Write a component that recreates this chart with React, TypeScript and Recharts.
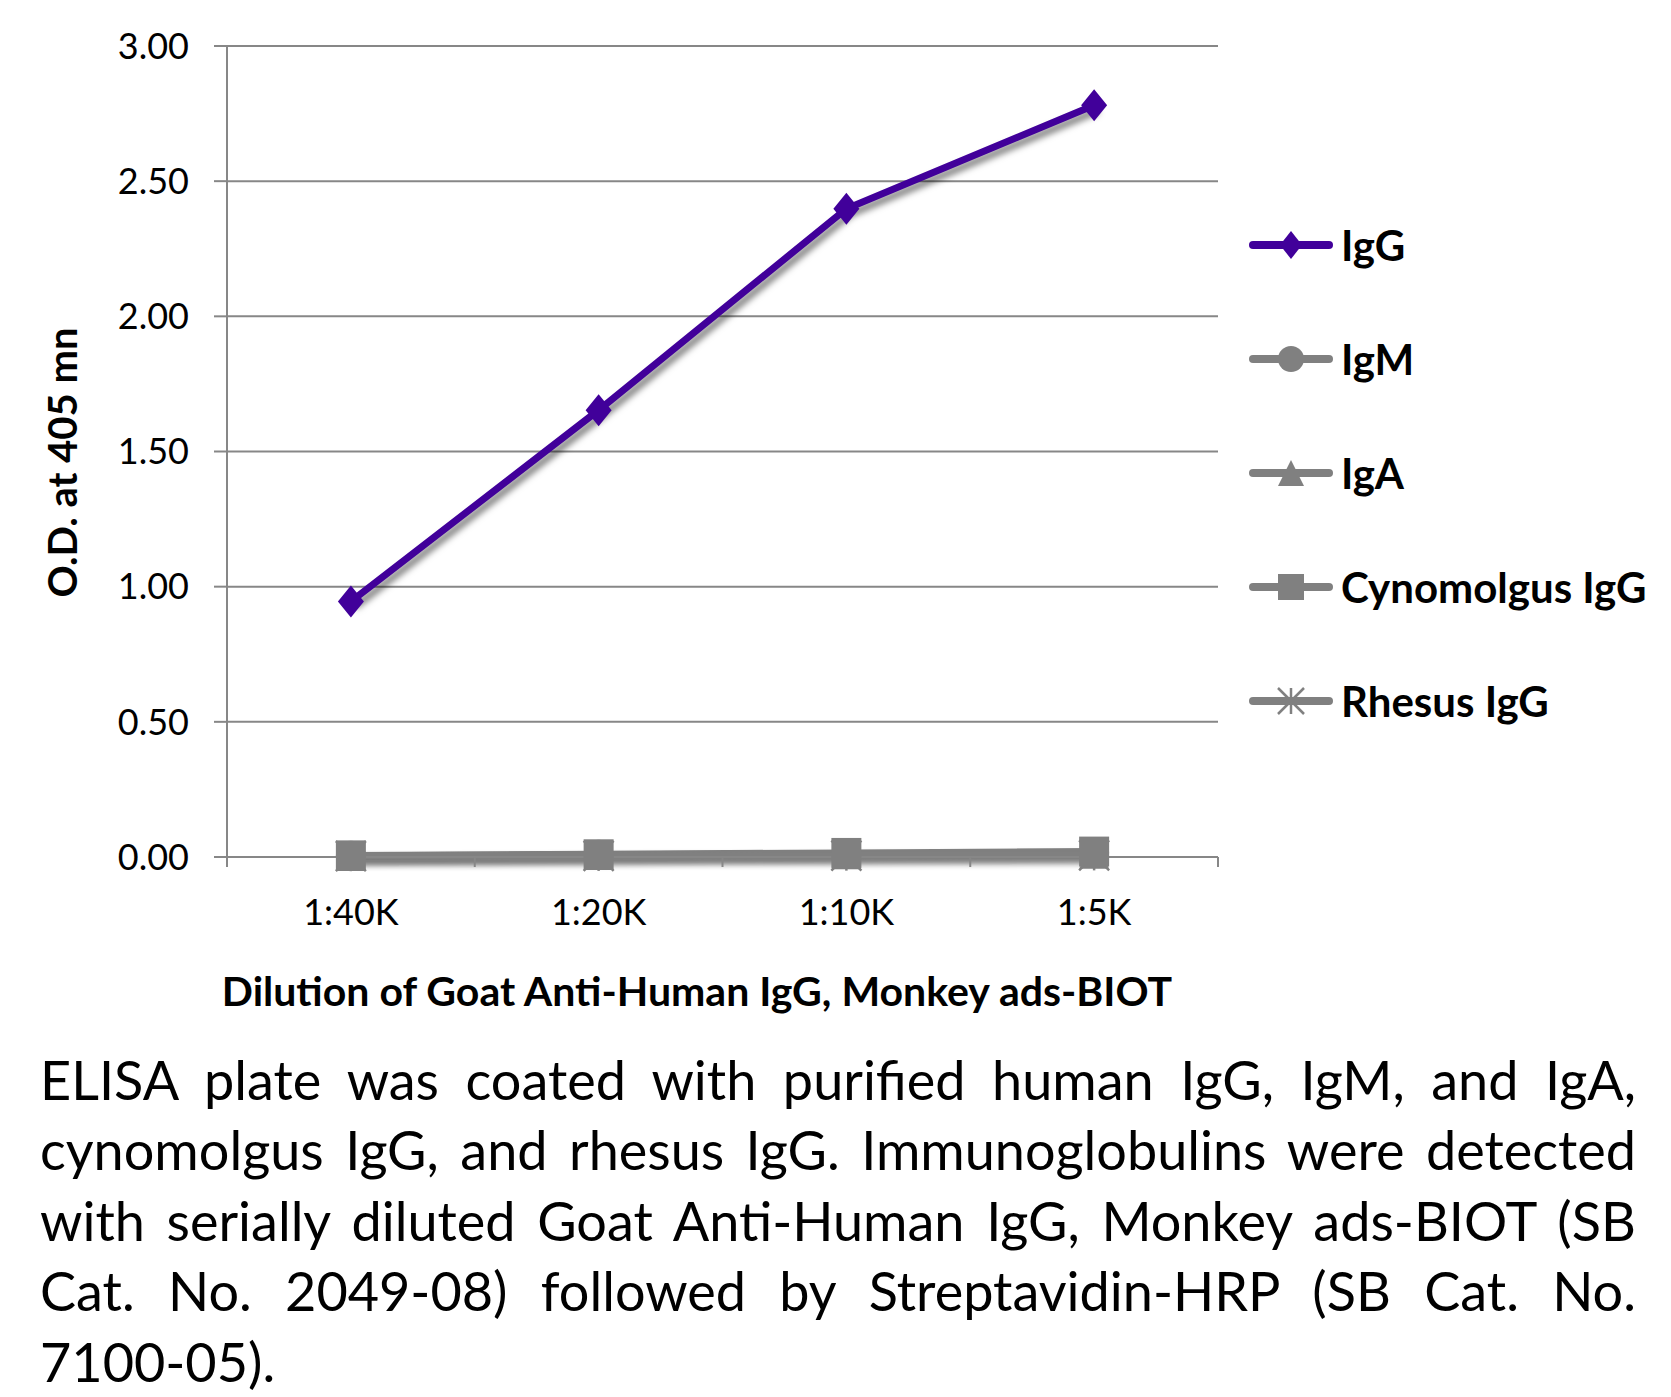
import React from 'react';
import { LineChart, Line, XAxis, YAxis, CartesianGrid, Legend, Label } from 'recharts';

// dilution steps on the x axis
const DILUTIONS = ['1:40K', '1:20K', '1:10K', '1:5K'];

// O.D. at 405 nm
const IGG = [0.945, 1.653, 2.398, 2.781];
const IGM = [0.005, 0.008, 0.012, 0.015];
const IGA = [0.004, 0.007, 0.01, 0.012];
const CYNO_IGG = [0.006, 0.01, 0.015, 0.02];
const RHESUS_IGG = [0.003, 0.004, 0.005, 0.006];

const SERIES_NAMES = ['IgG', 'IgM', 'IgA', 'Cynomolgus IgG', 'Rhesus IgG'];
const Y_TICKS = [0, 0.5, 1, 1.5, 2, 2.5, 3];

const CAPTION_LINES = [
  'ELISA plate was coated with purified human IgG, IgM, and IgA,',
  'cynomolgus IgG, and rhesus IgG. Immunoglobulins were detected',
  'with serially diluted Goat Anti-Human IgG, Monkey ads-BIOT (SB',
  'Cat. No. 2049-08) followed by Streptavidin-HRP (SB Cat. No.',
  '7100-05).',
];

const data = DILUTIONS.map((dilution, i) => ({
  dilution,
  IgG: IGG[i],
  IgM: IGM[i],
  IgA: IGA[i],
  'Cynomolgus IgG': CYNO_IGG[i],
  'Rhesus IgG': RHESUS_IGG[i],
}));

// styling per series
const PURPLE = '#41009A';
const GRAY = '#808080';
const AXIS = '#878787';
const STYLE: Record<string, { color: string; marker: string; shadow: string }> = {
  IgG: { color: PURPLE, marker: 'diamond', shadow: 'shadow-strong' },
  IgM: { color: GRAY, marker: 'circle', shadow: 'shadow-soft' },
  IgA: { color: GRAY, marker: 'triangle', shadow: 'shadow-soft' },
  'Cynomolgus IgG': { color: GRAY, marker: 'square', shadow: 'shadow-soft' },
  'Rhesus IgG': { color: GRAY, marker: 'star', shadow: 'shadow-soft' },
};

const W = 1671;
const CHART_H = 1030;
const PLOT_LEFT = 227;
const PLOT_RIGHT = 1218;
const PLOT_TOP = 46;
const PLOT_BOTTOM = 857;
const BAND = (PLOT_RIGHT - PLOT_LEFT) / DILUTIONS.length;

const FONT = 'Lato, "Open Sans", sans-serif';

function Marker({ cx, cy, kind, color, s = 15 }: { cx: number; cy: number; kind: string; color: string; s?: number }) {
  if (kind === 'diamond') {
    return <polygon points={`${cx},${cy - s - 1} ${cx + s - 2},${cy} ${cx},${cy + s + 1} ${cx - s + 2},${cy}`} fill={color} />;
  }
  if (kind === 'circle') return <circle cx={cx} cy={cy} r={s} fill={color} />;
  if (kind === 'triangle') {
    return <polygon points={`${cx},${cy - s} ${cx + s},${cy + s} ${cx - s},${cy + s}`} fill={color} />;
  }
  if (kind === 'square') return <rect x={cx - s} y={cy - s} width={s * 2} height={s * 2} fill={color} />;
  // asterisk
  return (
    <g stroke={color} strokeWidth={2.5}>
      <line x1={cx - s} y1={cy - s} x2={cx + s} y2={cy + s} />
      <line x1={cx - s} y1={cy + s} x2={cx + s} y2={cy - s} />
      <line x1={cx} y1={cy - s} x2={cx} y2={cy + s} />
    </g>
  );
}

const makeDot = (name: string) => (props: any) => {
  const { cx, cy, index } = props;
  if (cx == null || cy == null) return <g key={`${name}-${index}`} />;
  return (
    <g key={`${name}-${index}`}>
      <Marker cx={cx} cy={cy} kind={STYLE[name].marker} color={STYLE[name].color} />
    </g>
  );
};

// category ticks sit between the categories, labels under the centres
const XTick = (props: any) => {
  const { x, y, payload, index } = props;
  const left = x - BAND / 2;
  return (
    <g>
      <line x1={left} y1={y} x2={left} y2={y + 10} stroke={AXIS} strokeWidth={2} />
      {index === DILUTIONS.length - 1 && (
        <line x1={x + BAND / 2} y1={y} x2={x + BAND / 2} y2={y + 10} stroke={AXIS} strokeWidth={2} />
      )}
      <text x={x} y={y + 54} textAnchor="middle" dominantBaseline="central" fontSize={36} fill="#000" fontFamily={FONT}>
        {payload.value}
      </text>
    </g>
  );
};

const YTitle = (props: any) => {
  const { viewBox } = props;
  const cx = viewBox.x + 62;
  const cy = viewBox.y + viewBox.height / 2 + 11;
  return (
    <text
      x={cx}
      y={cy}
      transform={`rotate(-90 ${cx} ${cy})`}
      textAnchor="middle"
      dominantBaseline="central"
      fontSize={40}
      fontWeight={700}
      fontFamily={FONT}
      fill="#000"
    >
      O.D. at 405 mn
    </text>
  );
};

const XTitle = (props: any) => {
  const { viewBox } = props;
  return (
    <text
      x={697}
      y={viewBox.y + 133}
      textAnchor="middle"
      dominantBaseline="central"
      fontSize={41}
      fontWeight={700}
      fontFamily={FONT}
      fill="#000"
    >
      Dilution of Goat Anti-Human IgG, Monkey ads-BIOT
    </text>
  );
};

const renderLegend = () => (
  <div style={{ fontFamily: FONT }}>
    {SERIES_NAMES.map((name) => {
      const st = STYLE[name];
      return (
        <div key={name} style={{ display: 'flex', alignItems: 'center', height: 114 }}>
          <svg width={92} height={40} style={{ flex: 'none' }}>
            <line x1={4} y1={20} x2={80} y2={20} stroke={st.color} strokeWidth={8} strokeLinecap="round" />
            <Marker cx={42} cy={20} kind={st.marker} color={st.color} s={13} />
          </svg>
          <span style={{ fontSize: 42, fontWeight: 700, color: '#000', whiteSpace: 'nowrap' }}>{name}</span>
        </div>
      );
    })}
  </div>
);

export default function App() {
  return (
    <div style={{ position: 'relative', width: W, height: 1397, background: '#fff', overflow: 'hidden' }}>
      <style>{`
        body { margin: 0; }
        .shadow-strong { filter: drop-shadow(4px 5px 3px rgba(0,0,0,0.5)); }
        .shadow-soft { filter: drop-shadow(4px 5px 3px rgba(0,0,0,0.22)); }
      `}</style>
      <LineChart
        width={W}
        height={CHART_H}
        data={data}
        margin={{ top: PLOT_TOP, right: W - PLOT_RIGHT, left: 0, bottom: 0 }}
      >
        <CartesianGrid vertical={false} stroke={AXIS} strokeWidth={2} />
        <XAxis
          dataKey="dilution"
          height={CHART_H - PLOT_BOTTOM}
          padding={{ left: BAND / 2, right: BAND / 2 }}
          tickLine={false}
          tickSize={0}
          tickMargin={0}
          axisLine={{ stroke: AXIS, strokeWidth: 2 }}
          tick={<XTick />}
          interval={0}
        >
          <Label content={<XTitle />} />
        </XAxis>
        <YAxis
          width={PLOT_LEFT}
          domain={[0, 3]}
          ticks={Y_TICKS}
          interval={0}
          tickFormatter={(v: number) => v.toFixed(2)}
          tickSize={13}
          tickMargin={25}
          tickLine={{ stroke: AXIS, strokeWidth: 2 }}
          axisLine={{ stroke: AXIS, strokeWidth: 2 }}
          tick={{ fontSize: 36, fill: '#000', fontFamily: FONT }}
        >
          <Label content={<YTitle />} />
        </YAxis>
        {SERIES_NAMES.map((name) => (
          <Line
            key={name}
            className={STYLE[name].shadow}
            type="linear"
            dataKey={name}
            name={name}
            stroke={STYLE[name].color}
            strokeWidth={7}
            dot={makeDot(name)}
            activeDot={false}
            isAnimationActive={false}
          />
        ))}
        <Legend
          layout="vertical"
          align="center"
          verticalAlign="middle"
          content={renderLegend}
          wrapperStyle={{ left: 1249, top: 188, width: 420 }}
        />
      </LineChart>
      <div
        style={{
          position: 'absolute',
          left: 40,
          top: 1045,
          width: 1596,
          fontFamily: FONT,
          fontSize: 54,
          color: '#000',
        }}
      >
        {CAPTION_LINES.map((line, i) => (
          <div
            key={i}
            style={{
              height: i < CAPTION_LINES.length - 1 ? 70.4 : 66,
              lineHeight: '70.4px',
              whiteSpace: 'nowrap',
              textAlign: i < CAPTION_LINES.length - 1 ? 'justify' : 'left',
              textAlignLast: i < CAPTION_LINES.length - 1 ? 'justify' : 'left',
            }}
          >
            {line}
          </div>
        ))}
      </div>
    </div>
  );
}
